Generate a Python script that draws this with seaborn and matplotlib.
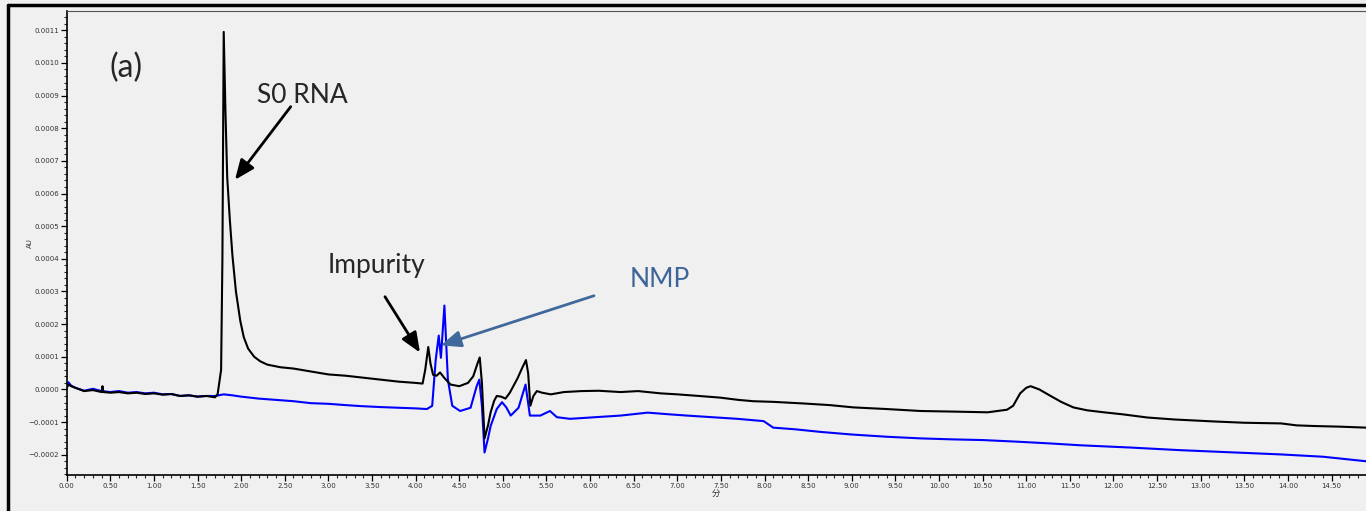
import numpy as np
import pandas as pd
import matplotlib
matplotlib.use("Agg")
import matplotlib.pyplot as plt
from matplotlib.lines import Line2D
from matplotlib.ticker import MultipleLocator, FuncFormatter
import seaborn as sns

# ---- data (time in min, absorbance in units of 1e-4 AU) ----
black_t = [0.00, 0.02, 0.05, 0.10, 0.20, 0.30, 0.40, 0.41, 0.42, 0.50, 0.60, 0.70, 0.80, 0.90,
           1.00, 1.10, 1.20, 1.30, 1.40, 1.50, 1.60, 1.70, 1.73, 1.77, 1.785, 1.80, 1.82, 1.84,
           1.87, 1.90, 1.94, 1.99, 2.03, 2.08, 2.15, 2.22, 2.30, 2.45, 2.60, 2.80, 3.00, 3.20,
           3.40, 3.60, 3.80, 4.00, 4.08, 4.11, 4.145, 4.17, 4.20, 4.24, 4.28, 4.33, 4.40, 4.50,
           4.60, 4.66, 4.71, 4.735, 4.76, 4.79, 4.83, 4.86, 4.90, 4.93, 4.98, 5.03, 5.08, 5.12,
           5.17, 5.22, 5.265, 5.29, 5.315, 5.35, 5.39, 5.45, 5.55, 5.70, 5.90, 6.10, 6.35, 6.55,
           6.81, 7.00, 7.25, 7.49, 7.70, 7.87, 8.10, 8.45, 8.75, 9.02, 9.40, 9.79, 10.20, 10.56,
           10.78, 10.85, 10.93, 11.00, 11.05, 11.15, 11.28, 11.40, 11.54, 11.70, 11.89, 12.10,
           12.39, 12.70, 13.15, 13.50, 13.92, 14.10, 14.30, 14.60, 14.90]
black_v = [0.05, 0.15, 0.10, 0.05, -0.05, -0.02, -0.08, 0.10, -0.08, -0.10, -0.08, -0.12, -0.10, -0.14,
           -0.12, -0.16, -0.14, -0.20, -0.18, -0.22, -0.20, -0.24, -0.15, 0.60, 4.0, 10.95, 8.5, 6.5,
           5.2, 4.1, 3.0, 2.1, 1.6, 1.25, 1.0, 0.86, 0.76, 0.68, 0.64, 0.55, 0.46, 0.42,
           0.36, 0.30, 0.24, 0.20, 0.18, 0.60, 1.30, 0.80, 0.45, 0.42, 0.52, 0.35, 0.15, 0.10,
           0.20, 0.40, 0.80, 0.98, 0.20, -1.50, -1.10, -0.70, -0.35, -0.20, -0.22, -0.28, -0.10, 0.10,
           0.35, 0.65, 0.90, 0.50, -0.50, -0.20, -0.05, -0.10, -0.15, -0.08, -0.05, -0.04, -0.08, -0.05,
           -0.12, -0.15, -0.20, -0.25, -0.32, -0.36, -0.38, -0.43, -0.48, -0.55, -0.60, -0.66, -0.68, -0.70,
           -0.62, -0.50, -0.12, 0.05, 0.10, 0.00, -0.20, -0.38, -0.55, -0.64, -0.70, -0.76,
           -0.86, -0.92, -0.98, -1.02, -1.04, -1.10, -1.12, -1.14, -1.17]

blue_t = [0.00, 0.02, 0.05, 0.10, 0.20, 0.30, 0.40, 0.50, 0.60, 0.70, 0.80, 0.90, 1.00, 1.10,
          1.20, 1.30, 1.40, 1.50, 1.60, 1.70, 1.80, 1.90, 2.00, 2.20, 2.40, 2.60, 2.80, 3.00,
          3.20, 3.37, 3.60, 3.80, 4.00, 4.13, 4.19, 4.23, 4.265, 4.29, 4.33, 4.37, 4.42, 4.51,
          4.63, 4.70, 4.73, 4.76, 4.79, 4.83, 4.86, 4.93, 4.99, 5.04, 5.09, 5.18, 5.26, 5.31,
          5.43, 5.54, 5.62, 5.77, 6.00, 6.35, 6.66, 6.90, 7.11, 7.40, 7.69, 7.99, 8.10, 8.35,
          8.64, 9.00, 9.41, 9.80, 10.17, 10.50, 10.90, 11.25, 11.62, 12.20, 12.77, 13.30, 13.92,
          14.40, 14.90]
blue_v = [0.05, 0.22, 0.12, 0.05, -0.04, 0.02, -0.05, -0.08, -0.05, -0.10, -0.08, -0.12, -0.10, -0.15,
          -0.14, -0.20, -0.18, -0.22, -0.20, -0.20, -0.15, -0.18, -0.22, -0.28, -0.32, -0.36, -0.42, -0.44,
          -0.48, -0.51, -0.54, -0.56, -0.58, -0.60, -0.50, 0.90, 1.65, 0.97, 2.57, 0.30, -0.50, -0.66,
          -0.56, 0.10, 0.30, -0.50, -1.93, -1.50, -1.12, -0.60, -0.39, -0.55, -0.80, -0.56, 0.15, -0.80,
          -0.80, -0.66, -0.85, -0.90, -0.86, -0.80, -0.71, -0.76, -0.80, -0.85, -0.90, -0.97, -1.17, -1.22,
          -1.30, -1.38, -1.45, -1.50, -1.53, -1.55, -1.60, -1.65, -1.71, -1.78, -1.86, -1.92, -1.99,
          -2.06, -2.20]

x_label = "分"
y_label = "AU"
panel_label = "(a)"
peak_labels = ["S0 RNA", "Impurity", "NMP"]

black_df = pd.DataFrame({"t": black_t, "AU": np.array(black_v) * 1e-4})
blue_df = pd.DataFrame({"t": blue_t, "AU": np.array(blue_v) * 1e-4})

# ---- style ----
sns.set_theme(style="white")
bg = "#f0f0f0"
plt.rcParams["font.family"] = ["DejaVu Sans"]
plt.rcParams["axes.unicode_minus"] = True

W, H = 1366, 511
fig = plt.figure(figsize=(W / 100, H / 100), dpi=100, facecolor=bg)
ax = fig.add_axes([66.7 / W, 1 - 475 / H, 1 - 66.7 / W, (475 - 11) / H])
ax.set_facecolor(bg)

sns.lineplot(data=blue_df, x="t", y="AU", ax=ax, color="#0000ff", lw=1.5,
             sort=False, estimator=None)
sns.lineplot(data=black_df, x="t", y="AU", ax=ax, color="black", lw=1.5,
             sort=False, estimator=None)

ax.set_xlim(0, 14.895)
ax.set_ylim(-0.000262, 0.001159)

ax.xaxis.set_major_locator(MultipleLocator(0.5))
ax.xaxis.set_minor_locator(MultipleLocator(0.1))
ax.yaxis.set_major_locator(MultipleLocator(0.0001))
ax.yaxis.set_minor_locator(MultipleLocator(0.00002))
ax.xaxis.set_major_formatter(FuncFormatter(lambda v, p: f"{v:.2f}"))
ax.yaxis.set_major_formatter(FuncFormatter(
    lambda v, p: f"{v:.4f}".replace("-", "\u2212") if abs(v) > 1e-9 else "0.0000"))
ax.tick_params(axis="both", which="major", direction="out", length=4, width=0.9,
               labelsize=5, colors="black", pad=1.5, left=True, bottom=True)
ax.tick_params(axis="both", which="minor", direction="out", length=2.5, width=0.8,
               left=True, bottom=True)
for lab in ax.get_xticklabels() + ax.get_yticklabels():
    lab.set_color("#333333")

for side in ["left", "bottom"]:
    ax.spines[side].set_color("black")
    ax.spines[side].set_linewidth(1.2)
ax.spines["top"].set_color("#555555")
ax.spines["top"].set_linewidth(0.8)
ax.spines["right"].set_visible(False)

ax.set_xlabel(x_label, fontsize=6, family=["Noto Sans CJK JP", "DejaVu Sans"], labelpad=0,
              color="#333333")
ax.set_ylabel(y_label, fontsize=5, color="#333333")
ax.yaxis.set_label_coords(-0.026, 0.5)

# ---- annotations ----
tfont = ["Lato", "DejaVu Sans"]
ax.text(0.68, 0.000985, panel_label, fontsize=23, ha="center", va="center", family=tfont)
ax.text(2.70, 0.000899, peak_labels[0], fontsize=19, ha="center", va="center", family=tfont)
ax.text(3.546, 0.000379, peak_labels[1], fontsize=19, ha="center", va="center", family=tfont)
ax.text(6.80, 0.000336, peak_labels[2], fontsize=19, ha="center", va="center", family=tfont,
        color="#3d6597")

arr = dict(arrowstyle="-|>,head_length=0.6,head_width=0.25", mutation_scale=20, lw=2,
           color="black", shrinkA=0, shrinkB=0)
ax.annotate("", xy=(1.929, 0.000642), xytext=(2.568, 0.000866), arrowprops=arr)
ax.annotate("", xy=(4.05, 0.000113), xytext=(3.649, 0.000284), arrowprops=arr)
arr_b = dict(arr, color="#41689a")
ax.annotate("", xy=(4.29, 0.000135), xytext=(6.045, 0.000287), arrowprops=arr_b)

# outer frame
fig.add_artist(Line2D([7.5 / W, 7.5 / W], [0, 1 - 5.5 / H], transform=fig.transFigure,
                      color="black", lw=2.5))
fig.add_artist(Line2D([7.5 / W, 1], [1 - 5.5 / H, 1 - 5.5 / H], transform=fig.transFigure,
                      color="black", lw=2.5))

fig.savefig("out.png", dpi=100, facecolor=bg)
